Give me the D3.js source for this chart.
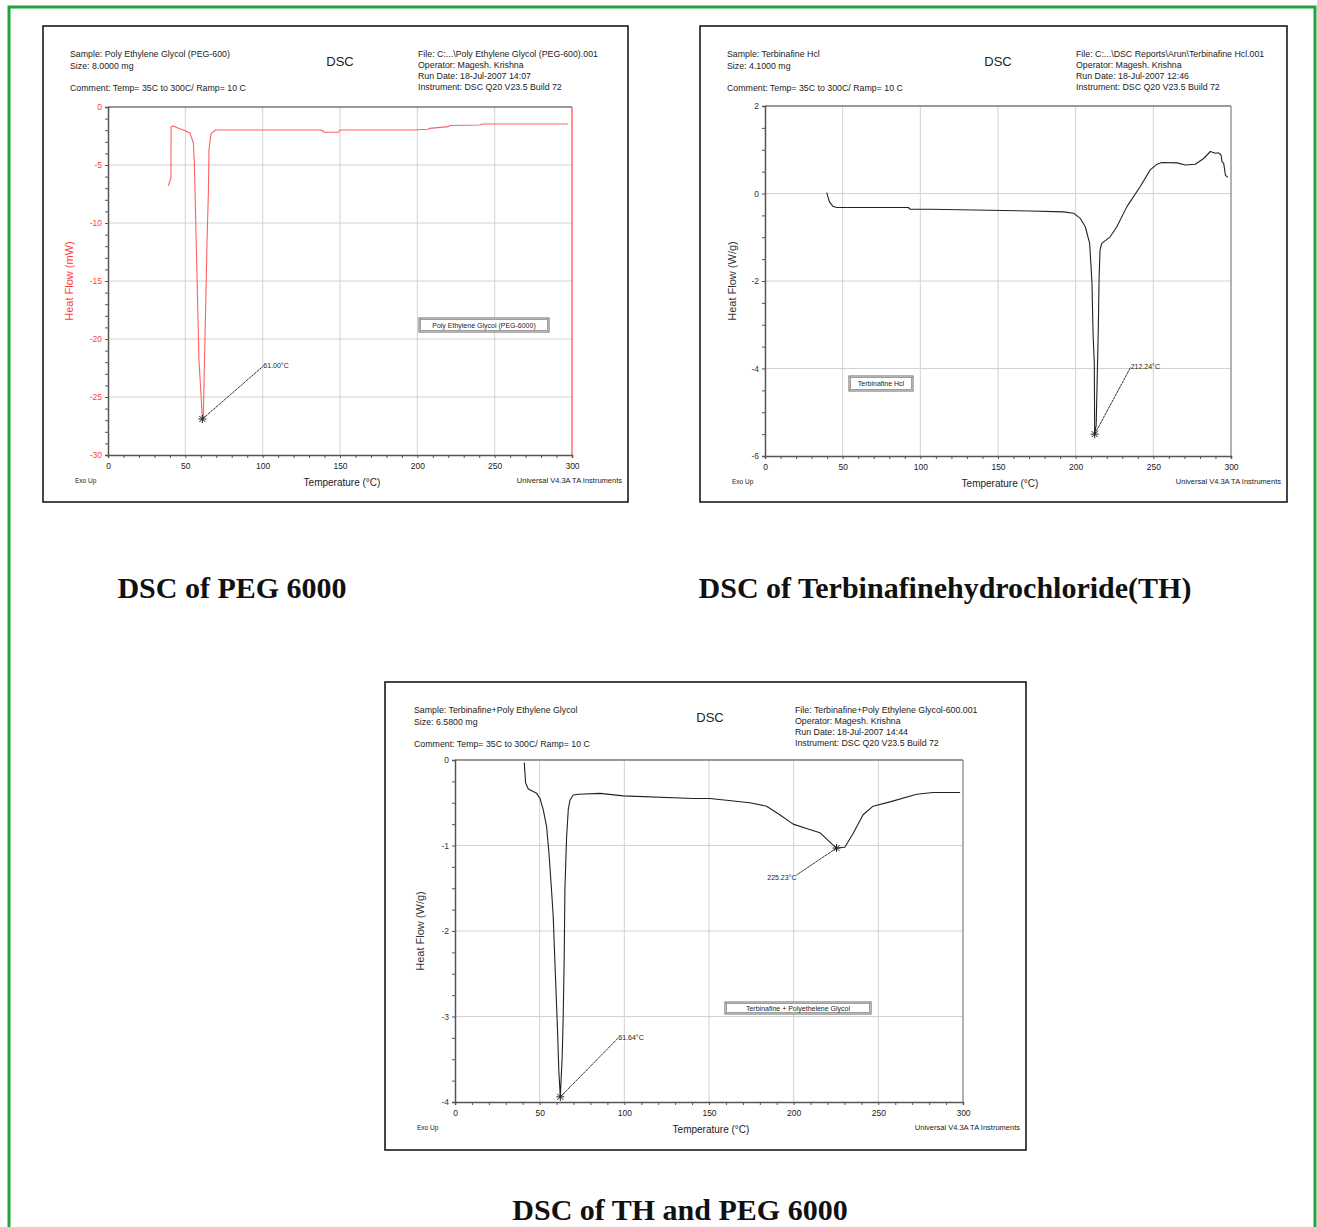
<!DOCTYPE html>
<meta charset="utf-8">
<style>
	body { margin: 0; background: #fff; }
	svg text { font-family: "Liberation Sans", Arial, sans-serif; fill: #222; }
	.caption { font-family: "Liberation Serif", "Times New Roman", serif !important; font-weight: bold; font-size: 30px; fill: #111 !important; }
	.grid line { stroke: #d2d2d2; stroke-width: 1px; }
	.axis path, .axis line { stroke: #555; }
	.axis text { font-size: 8.5px; }
	.hdr { font-size: 8.8px; }
	.small { font-size: 7px; }
	.curve { fill: none; stroke-width: 1.1px; stroke-linejoin: round; }
</style>
<svg id="page" width="1317" height="1227"></svg>
<script src="https://d3js.org/d3.v7.min.js"></script>
<script>
	// PEG 6000 (mW)
	var pegTemp = [39, 40.7, 40.8, 42.2, 46, 49.8, 53, 55.2, 55.8, 56.7, 58, 58.8, 60.1, 61.0, 61.6, 62.3, 63.2, 64, 64.9, 65.3, 66.6, 69.6, 92, 138, 140, 149, 150, 197, 207, 208, 220, 221, 240, 242.6, 297.6];
	var pegFlow = [-6.8, -6.1, -1.7, -1.64, -1.85, -2.04, -2.27, -3.1, -4.7, -9.7, -17.2, -21.8, -24.7, -26.9, -26.8, -22.4, -16.9, -11.7, -7.4, -3.7, -2.3, -1.98, -1.98, -1.98, -2.18, -2.18, -1.98, -1.98, -1.92, -1.84, -1.69, -1.6, -1.55, -1.47, -1.47];

	// Terbinafine Hcl (W/g)
	var thTemp = [39.7, 41.5, 43.6, 46.2, 92.3, 93.4, 106.3, 170.8, 192.2, 198.6, 203, 206.2, 209, 209.9, 210.5, 211.2, 212, 212.24, 213.2, 214.6, 215.1, 215.7, 216.8, 222.2, 226.5, 233, 241.6, 248, 252.4, 255.6, 265.3, 270.6, 277, 282.4, 286.7, 290, 292, 293.6, 294.2, 295.3, 296.4, 297.9];
	var thFlow = [0.02, -0.19, -0.29, -0.32, -0.32, -0.36, -0.36, -0.4, -0.42, -0.45, -0.57, -0.76, -1.14, -1.67, -2.05, -3.2, -3.88, -5.5, -5.3, -3.04, -1.9, -1.29, -1.14, -0.99, -0.76, -0.3, 0.16, 0.54, 0.67, 0.71, 0.70, 0.65, 0.67, 0.80, 0.96, 0.92, 0.93, 0.88, 0.73, 0.69, 0.42, 0.37];

	// TH + PEG 6000 (W/g)
	var mixTemp = [40.9, 41.7, 43.3, 48.2, 50.2, 52.1, 54.1, 55.5, 57, 58, 59.4, 60.6, 61.3, 62.2, 63.3, 63.9, 64.5, 64.9, 65.9, 66.9, 67.9, 69.8, 72.8, 85.6, 99.4, 140.7, 150.5, 160.3, 174.1, 184, 191.8, 199.7, 207.6, 215.5, 221.4, 225.3, 230.2, 235.1, 241, 246.9, 256.9, 272.6, 282.4, 298.3];
	var mixFlow = [-0.03, -0.27, -0.34, -0.39, -0.45, -0.58, -0.78, -1.09, -1.52, -1.83, -2.57, -3.19, -3.63, -3.94, -3.47, -3.0, -2.3, -1.52, -0.9, -0.58, -0.47, -0.41, -0.40, -0.39, -0.42, -0.45, -0.45, -0.47, -0.5, -0.54, -0.64, -0.75, -0.8, -0.85, -0.96, -1.03, -1.02, -0.86, -0.64, -0.54, -0.49, -0.40, -0.38, -0.38];

	// peaks: [temp, heat flow, label]
	var pegPeaks = [[61.0, -26.9, "61.00°C"]];
	var thPeaks = [[212.24, -5.5, "212.24°C"]];
	var mixPeaks = [[62.2, -3.94, "61.64°C"], [225.3, -1.03, "225.23°C"]];

	var xTicks = [0, 50, 100, 150, 200, 250, 300];
	var pegYTicks = [0, -5, -10, -15, -20, -25, -30];
	var thYTicks = [2, 0, -2, -4, -6];
	var mixYTicks = [0, -1, -2, -3, -4];

	var pegHeadLeft = ["Sample: Poly Ethylene Glycol (PEG-600)", "Size:  8.0000 mg", "Comment: Temp=  35C to 300C/ Ramp= 10 C"];
	var pegHeadRight = ["File: C:...\\Poly Ethylene Glycol (PEG-600).001", "Operator: Magesh. Krishna", "Run Date: 18-Jul-2007 14:07", "Instrument: DSC Q20 V23.5 Build 72"];
	var thHeadLeft = ["Sample: Terbinafine Hcl", "Size:  4.1000 mg", "Comment: Temp=  35C to 300C/ Ramp= 10 C"];
	var thHeadRight = ["File: C:...\\DSC Reports\\Arun\\Terbinafine Hcl.001", "Operator: Magesh. Krishna", "Run Date: 18-Jul-2007 12:46", "Instrument: DSC Q20 V23.5 Build 72"];
	var mixHeadLeft = ["Sample: Terbinafine+Poly Ethylene Glycol", "Size:  6.5800 mg", "Comment: Temp=  35C to 300C/ Ramp= 10 C"];
	var mixHeadRight = ["File: Terbinafine+Poly Ethylene Glycol-600.001", "Operator: Magesh. Krishna", "Run Date: 18-Jul-2007 14:44", "Instrument: DSC Q20 V23.5 Build 72"];

	var svg = d3.select("#page");

	// green page border
	svg.append("rect")
		.attr("x", 9).attr("y", 7).attr("width", 1306).attr("height", 1250)
		.attr("fill", "none").attr("stroke", "#22a33c").attr("stroke-width", 3);

	function drawPanel(p) {
		var g = svg.append("g");
		g.append("rect")
			.attr("x", p.box[0]).attr("y", p.box[1]).attr("width", p.box[2]).attr("height", p.box[3])
			.attr("fill", "#fff").attr("stroke", "#1a1a1a").attr("stroke-width", 1.6);

		var x = d3.scaleLinear().domain([0, 300]).range([p.plot[0], p.plot[2]]);
		var y = d3.scaleLinear().domain([p.yTicks[p.yTicks.length - 1], p.yTicks[0]]).range([p.plot[3], p.plot[1]]);

		// grid
		var grid = g.append("g").attr("class", "grid");
		grid.selectAll(".vx").data(xTicks.slice(1, -1)).enter().append("line")
			.attr("x1", x).attr("x2", x).attr("y1", p.plot[1]).attr("y2", p.plot[3]);
		grid.selectAll(".hy").data(p.yTicks.slice(1, -1)).enter().append("line")
			.attr("x1", p.plot[0]).attr("x2", p.plot[2]).attr("y1", y).attr("y2", y);

		// top and right frame
		g.append("line").attr("x1", p.plot[0]).attr("x2", p.plot[2]).attr("y1", p.plot[1]).attr("y2", p.plot[1])
			.attr("stroke", "#777").attr("stroke-width", 1.5);
		g.append("line").attr("x1", p.plot[2]).attr("x2", p.plot[2]).attr("y1", p.plot[1]).attr("y2", p.plot[3])
			.attr("stroke", p.rightColor).attr("stroke-width", 1.3);

		// x axis with minor ticks every 10
		var xa = g.append("g").attr("class", "axis")
			.attr("transform", "translate(0," + p.plot[3] + ")")
			.call(d3.axisBottom(x).tickValues(d3.range(0, 301, 10)).tickSize(3)
				.tickFormat(function(d) { return d % 50 === 0 ? d : ""; }));
		xa.select(".domain").attr("stroke", "#444").attr("stroke-width", 1.5);
		xa.selectAll("text").attr("dy", "0.9em");

		// y axis with minor ticks
		var yMin = p.yTicks[p.yTicks.length - 1], yMax = p.yTicks[0];
		var minor = d3.range(0, Math.round((yMax - yMin) / p.yMinor) + 1).map(function(i) { return yMin + i * p.yMinor; });
		var ya = g.append("g").attr("class", "axis")
			.attr("transform", "translate(" + p.plot[0] + ",0)")
			.call(d3.axisLeft(y).tickValues(minor).tickSize(3)
				.tickFormat(function(d) {
					return p.yTicks.some(function(t) { return Math.abs(t - d) < 1e-6; }) ? d : "";
				}));
		ya.select(".domain").attr("stroke", p.axisColor).attr("stroke-width", 1.5);
		ya.selectAll("line").attr("stroke", p.axisColor);
		ya.selectAll("text").style("fill", p.axisColor);

		// curve
		var pts = p.temp.map(function(t, i) { return [t, p.flow[i]]; });
		var line = d3.line().x(function(d) { return x(d[0]); }).y(function(d) { return y(d[1]); });
		g.append("path").attr("class", "curve").attr("d", line(pts)).attr("stroke", p.curveColor);

		// peak annotations
		p.peaks.forEach(function(pk, i) {
			var px = x(pk[0]), py = y(pk[1]);
			var lx = px + p.labelOff[i][0], ly = py + p.labelOff[i][1];
			g.append("line").attr("x1", px).attr("y1", py).attr("x2", lx).attr("y2", ly)
				.attr("stroke", "#333").attr("stroke-width", 1).attr("stroke-dasharray", "3,0.6");
			g.append("path")
				.attr("d", "M" + (px - 4) + "," + py + "h8M" + px + "," + (py - 4) + "v8M" + (px - 3) + "," + (py - 3) + "l6,6M" + (px + 3) + "," + (py - 3) + "l-6,6")
				.attr("stroke", "#222").attr("stroke-width", 1);
			g.append("text").attr("class", "small")
				.attr("x", lx + p.textOff[i][0]).attr("y", ly + p.textOff[i][1])
				.attr("text-anchor", p.textOff[i][2])
				.text(pk[2]);
		});

		// legend box
		var lb = p.legend;
		g.append("rect").attr("x", lb[0]).attr("y", lb[1]).attr("width", lb[2]).attr("height", lb[3])
			.attr("fill", "#fff").attr("stroke", "#666").attr("stroke-width", 1);
		g.append("rect").attr("x", lb[0] + 1.5).attr("y", lb[1] + 1.5).attr("width", lb[2] - 3).attr("height", lb[3] - 3)
			.attr("fill", "none").attr("stroke", "#888").attr("stroke-width", 0.8);
		g.append("text").attr("class", "small")
			.attr("x", lb[0] + lb[2] / 2).attr("y", lb[1] + lb[3] / 2 + 2.5).attr("text-anchor", "middle")
			.text(lb[4]);

		// header
		var bx = p.box[0], by = p.box[1];
		var leftY = [by + 31, by + 43, by + 65];
		p.headLeft.forEach(function(t, i) {
			g.append("text").attr("class", "hdr").attr("x", p.headX[0]).attr("y", leftY[i]).text(t);
		});
		p.headRight.forEach(function(t, i) {
			g.append("text").attr("class", "hdr").attr("x", p.headX[1]).attr("y", by + 31 + i * 11).text(t);
		});
		g.append("text").attr("x", p.headX[2]).attr("y", by + 40).attr("text-anchor", "middle")
			.style("font-size", "13px").text("DSC");

		// bottom texts
		var bot = p.plot[3];
		g.append("text").attr("x", bx + 32).attr("y", bot + 28).style("font-size", "6.5px").text("Exo Up");
		g.append("text").attr("x", x(150) + 2).attr("y", bot + 31).attr("text-anchor", "middle")
			.style("font-size", "10px").text("Temperature (°C)");
		g.append("text").attr("x", p.box[0] + p.box[2] - 6).attr("y", bot + 28).attr("text-anchor", "end")
			.style("font-size", "7.5px").text("Universal V4.3A TA Instruments");

		// y label
		g.append("text")
			.attr("transform", "translate(" + p.yLabelX + "," + ((p.plot[1] + p.plot[3]) / 2) + ") rotate(-90)")
			.attr("text-anchor", "middle").style("font-size", "11px").style("fill", p.axisColor)
			.text(p.yLabel);
	}

	drawPanel({
		box: [43, 26, 585, 476], plot: [108, 107, 572, 455],
		yTicks: pegYTicks, yMinor: 1, temp: pegTemp, flow: pegFlow, peaks: pegPeaks,
		labelOff: [[61, -53]], textOff: [[0, 2, "start"]],
		legend: [419, 318, 130, 14, "Poly Ethylene Glycol (PEG-6000)"],
		headLeft: pegHeadLeft, headRight: pegHeadRight, headX: [70, 418, 340],
		axisColor: "#ff3b3b", rightColor: "#ff5555", curveColor: "#ff6060",
		yLabel: "Heat Flow (mW)", yLabelX: 73
	});

	drawPanel({
		box: [700, 26, 587, 476], plot: [765, 106, 1231, 456],
		yTicks: thYTicks, yMinor: 0.5, temp: thTemp, flow: thFlow, peaks: thPeaks,
		labelOff: [[36, -67]], textOff: [[0, 2, "start"]],
		legend: [849, 376, 64, 15, "Terbinafine Hcl"],
		headLeft: thHeadLeft, headRight: thHeadRight, headX: [727, 1076, 998],
		axisColor: "#333", rightColor: "#888", curveColor: "#222",
		yLabel: "Heat Flow (W/g)", yLabelX: 736
	});

	drawPanel({
		box: [385, 682, 641, 468], plot: [455, 760, 963, 1102],
		yTicks: mixYTicks, yMinor: 0.25, temp: mixTemp, flow: mixFlow, peaks: mixPeaks,
		labelOff: [[58, -59], [-40, 27]], textOff: [[0, 2, "start"], [0, 5, "end"]],
		legend: [725, 1002, 146, 12, "Terbinafine + Polyethelene Glycol"],
		headLeft: mixHeadLeft, headRight: mixHeadRight, headX: [414, 795, 710],
		axisColor: "#333", rightColor: "#888", curveColor: "#222",
		yLabel: "Heat Flow (W/g)", yLabelX: 424
	});

	// captions
	svg.append("text").attr("class", "caption").attr("x", 232).attr("y", 598).attr("text-anchor", "middle").text("DSC of PEG 6000");
	svg.append("text").attr("class", "caption").attr("x", 945).attr("y", 598).attr("text-anchor", "middle").text("DSC of Terbinafinehydrochloride(TH)");
	svg.append("text").attr("class", "caption").attr("x", 680).attr("y", 1220).attr("text-anchor", "middle").text("DSC of TH and PEG 6000");
</script>
